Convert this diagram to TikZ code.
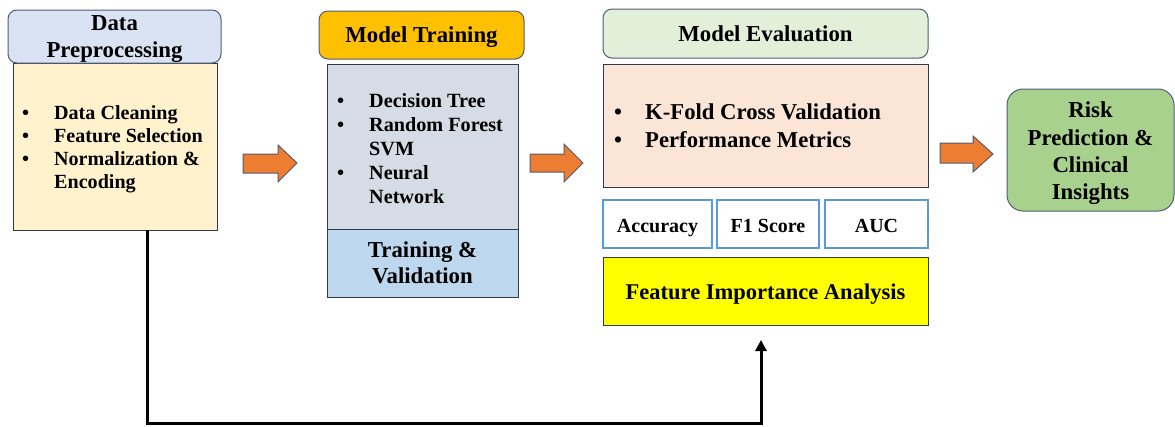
\documentclass[tikz,border=0pt]{standalone}
\usepackage{fontspec}
\setmainfont{Liberation Serif}
\usetikzlibrary{arrows.meta}
\definecolor{hdrblue}{HTML}{DAE3F3}
\definecolor{bodyyellow}{HTML}{FFF2CC}
\definecolor{hdrorange}{HTML}{FFC000}
\definecolor{bodygray}{HTML}{D6DCE5}
\definecolor{bodyblue}{HTML}{BDD7EE}
\definecolor{hdrgreen}{HTML}{E2F0D9}
\definecolor{bodypeach}{HTML}{FBE5D6}
\definecolor{metricblue}{HTML}{5B9BD5}
\definecolor{fiayellow}{HTML}{FFFF00}
\definecolor{riskgreen}{HTML}{A9D18E}
\definecolor{arroworange}{HTML}{ED7D31}
\definecolor{edgegray}{HTML}{4F5E73}
\definecolor{edgedark}{HTML}{2F3A4A}
\tikzset{
  hdrbox/.style={draw=edgegray, line width=1pt, rounded corners=9pt, align=center, inner sep=0pt,
    text height=19pt, text depth=4pt, font=\fontsize{22.8}{27}\selectfont\bfseries},
  plainbox/.style={draw=edgedark, line width=0.9pt, inner sep=0pt, align=center,
    font=\fontsize{22.5}{27}\selectfont\bfseries},
  metricbox/.style={draw=metricblue, line width=2.4pt, fill=white, inner sep=0pt,
    text height=20pt, text depth=4pt, font=\fontsize{20}{24}\selectfont\bfseries},
  labeltext/.style={inner sep=0pt, align=center},
  listtext/.style={anchor=west, inner sep=0pt, align=left},
  blockarrow/.style={fill=arroworange, draw=edgegray, line width=1pt, line join=miter},
  conn/.style={line width=3pt, -{Triangle[length=11pt,width=11pt]}}
}
\begin{document}
\begin{tikzpicture}[x=1pt,y=-1pt]
\useasboundingbox (0,0) rectangle (1175,426);
% Data Preprocessing
\node[plainbox, fill=bodyyellow, minimum width=204pt, minimum height=167pt] (dpbody) at (115,146.5) {};
\node[hdrbox, text height=, text depth=, fill=hdrblue, minimum width=213pt, minimum height=53pt] (dphdr) at (114.5,36.5) {};
\node[labeltext, font=\fontsize{22.8}{27}\selectfont\bfseries, yshift=-3pt] (dphdrtext) at (dphdr.center) {Data\\Preprocessing};
\node[listtext] (dplist) at (22,149) {\fontsize{20.1}{23}\selectfont\bfseries
  \begin{tabular}{@{}l@{}}
  \makebox[32pt][l]{\textbullet}Data Cleaning\\
  \makebox[32pt][l]{\textbullet}Feature Selection\\
  \makebox[32pt][l]{\textbullet}Normalization \&\\
  \makebox[32pt][l]{}Encoding
  \end{tabular}};
% Model Training
\node[hdrbox, fill=hdrorange, minimum width=205pt, minimum height=48pt] (mthdr) at (421.5,35) {Model Training};
\node[plainbox, fill=bodygray, minimum width=191pt, minimum height=165pt] (mtbody) at (422.5,146.5) {};
\node[plainbox, fill=bodyblue, minimum width=191pt, minimum height=68pt] (mtval) at (422.5,263) {};
\node[labeltext, font=\fontsize{22.8}{26}\selectfont\bfseries, yshift=0pt] (mtvaltext) at (mtval.center) {Training \&\\Validation};
\node[listtext] (mtlist) at (337,150.5) {\fontsize{20.2}{24}\selectfont\bfseries
  \begin{tabular}{@{}l@{}}
  \makebox[32pt][l]{\textbullet}Decision Tree\\
  \makebox[32pt][l]{\textbullet}Random Forest\\
  \makebox[32pt][l]{}SVM\\
  \makebox[32pt][l]{\textbullet}Neural\\
  \makebox[32pt][l]{}Network
  \end{tabular}};
% Model Evaluation
\node[hdrbox, fill=hdrgreen, minimum width=325pt, minimum height=49pt] (mehdr) at (765.5,33.5) {Model Evaluation};
\node[plainbox, fill=bodypeach, minimum width=325pt, minimum height=123pt] (mebody) at (765.5,125.5) {};
\node[listtext] (melist) at (614,128) {\fontsize{22.7}{28}\selectfont\bfseries
  \begin{tabular}{@{}l@{}}
  \makebox[31pt][l]{\textbullet}K-Fold Cross Validation\\
  \makebox[31pt][l]{\textbullet}Performance Metrics
  \end{tabular}};
\node[metricbox, minimum width=109pt, minimum height=48pt] (acc) at (657.5,224) {Accuracy};
\node[metricbox, minimum width=102pt, minimum height=48pt] (f1) at (768,224) {F1 Score};
\node[metricbox, minimum width=103pt, minimum height=48pt] (auc) at (876.5,224) {AUC};
\node[plainbox, fill=fiayellow, minimum width=325pt, minimum height=68pt, text height=20pt, text depth=4pt] (fia) at (765.5,291) {Feature Importance Analysis};
% Risk Prediction
\node[draw=edgegray, line width=1pt, rounded corners=16pt, fill=riskgreen, inner sep=0pt,
  minimum width=167pt, minimum height=122pt] (risk) at (1090.5,150) {};
\node[labeltext, font=\fontsize{22.8}{27.3}\selectfont\bfseries, yshift=-3.5pt] (risktext) at (risk.center)
  {Risk\\Prediction \&\\Clinical\\Insights};
% block arrows
\draw[blockarrow] (243,154) -- (278,154) -- (278,145) -- (297,163) -- (278,182) -- (278,173) -- (243,173) -- cycle;
\draw[blockarrow] (530,154) -- (564,154) -- (564,144) -- (583,163) -- (564,182) -- (564,172) -- (530,172) -- cycle;
\draw[blockarrow] (940,143) -- (973,143) -- (973,136) -- (993,154) -- (973,172) -- (973,163) -- (940,163) -- cycle;
% connector
\coordinate (fiain) at (761,340);
\draw[conn] (dpbody.south -| 147,0) |- (761,423.5) -- (fiain);
\end{tikzpicture}
\end{document}
